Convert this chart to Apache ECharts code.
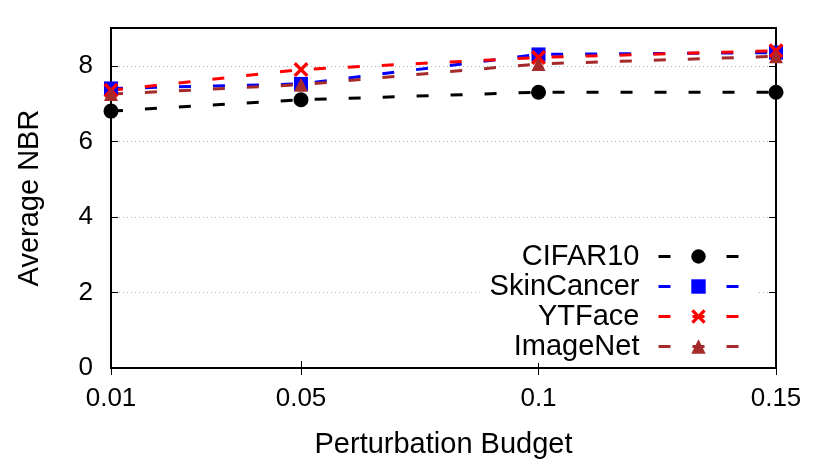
<!DOCTYPE html>
<html>
<head>
<meta charset="utf-8">
<script src="https://cdn.jsdelivr.net/npm/echarts@6/dist/echarts.min.js"></script>
<style>
html,body{margin:0;padding:0;background:#fff;}
#main{width:830px;height:464px;}
</style>
</head>
<body>
<div id="main"></div>
<script>
const budgets = [0.01, 0.05, 0.1, 0.15];
const tickLabels = ['0.01', '0.05', '0.1', '0.15'];
const seriesNames = ['CIFAR10', 'SkinCancer', 'YTFace', 'ImageNet'];
const cifar10 = [6.8, 7.1, 7.3, 7.3];
const skinCancer = [7.4, 7.52, 8.3, 8.35];
const ytFace = [7.35, 7.9, 8.22, 8.4];
const imageNet = [7.25, 7.5, 8.05, 8.25];
const yTicks = [0, 2, 4, 6, 8];

const FONT = 'Liberation Sans, Arial, sans-serif';
const colors = ['#000000', '#0000ff', '#ff0000', '#a52a2a'];
const symbols = [
  'circle',
  'rect',
  'path://M0,1.6 L1.6,0 L5,3.4 L8.4,0 L10,1.6 L6.6,5 L10,8.4 L8.4,10 L5,6.6 L1.6,10 L0,8.4 L3.4,5 Z',
  'triangle'
];
const symbolSizes = [15, 14, 15, 14];
const values = [cifar10, skinCancer, ytFace, imageNet];

const chart = echarts.init(document.getElementById('main'), null, {renderer: 'canvas'});

const series = seriesNames.map((name, i) => ({
  name: name,
  type: 'line',
  xAxisIndex: 0,
  yAxisIndex: 0,
  data: budgets.map((b, j) => [b, values[i][j]]),
  symbol: symbols[i],
  symbolSize: symbolSizes[i],
  showAllSymbol: true,
  itemStyle: {color: colors[i]},
  lineStyle: {color: colors[i], width: 3, type: [12, 22]},
  emphasis: {disabled: true},
  animation: false
}));

const option = {
  animation: false,
  textStyle: {fontFamily: FONT},
  grid: {
    left: 111, right: 54, top: 28, bottom: 96,
    show: true, borderColor: '#000', borderWidth: 2, backgroundColor: 'transparent'
  },
  legend: {
    orient: 'vertical',
    right: 72,
    top: 240,
    align: 'right',
    itemWidth: 80,
    itemHeight: 18,
    itemGap: 1,
    padding: [2, 18, 2, 10],
    backgroundColor: '#fff',
    lineStyle: {width: 3},
    textStyle: {fontSize: 29, fontFamily: FONT, color: '#000', padding: [0, 14, 0, 0]},
    data: seriesNames
  },
  xAxis: [{
    type: 'value',
    min: 0.01,
    max: 0.15,
    name: 'Perturbation Budget',
    nameLocation: 'middle',
    nameGap: 62,
    nameTextStyle: {fontSize: 29, color: '#000', fontFamily: FONT},
    axisLine: {show: true, lineStyle: {color: '#000', width: 2}},
    axisTick: {show: true, inside: true, length: 7, customValues: budgets, lineStyle: {color: '#000', width: 1}},
    axisLabel: {
      show: true, fontSize: 26, color: '#000', margin: 18, fontFamily: FONT,
      customValues: budgets,
      formatter: function (v) { const k = budgets.findIndex(b => Math.abs(b - v) < 1e-9); return k >= 0 ? tickLabels[k] : ''; }
    },
    splitLine: {show: false}
  }, {
    type: 'value',
    position: 'top',
    min: 0.01,
    max: 0.15,
    axisLine: {show: true, lineStyle: {color: '#000', width: 2}},
    axisTick: {show: true, inside: true, length: 7, customValues: budgets, lineStyle: {color: '#000', width: 1}},
    axisLabel: {show: false},
    splitLine: {show: false}
  }],
  yAxis: [{
    type: 'value',
    min: 0,
    max: 9,
    interval: 2,
    name: 'Average NBR',
    nameLocation: 'middle',
    nameGap: 67,
    nameTextStyle: {fontSize: 29, color: '#000', fontFamily: FONT},
    axisLine: {show: true, lineStyle: {color: '#000', width: 2}},
    axisTick: {show: true, inside: true, length: 7, customValues: yTicks, lineStyle: {color: '#000', width: 1}},
    axisLabel: {show: true, fontSize: 26, color: '#000', margin: 18, fontFamily: FONT, customValues: yTicks},
    splitLine: {show: true, lineStyle: {color: '#b0b0b0', width: 1, type: [1, 3]}}
  }, {
    type: 'value',
    position: 'right',
    min: 0,
    max: 9,
    interval: 2,
    axisLine: {show: true, lineStyle: {color: '#000', width: 2}},
    axisTick: {show: true, inside: true, length: 7, customValues: yTicks, lineStyle: {color: '#000', width: 1}},
    axisLabel: {show: false},
    splitLine: {show: false}
  }],
  series: series
};

chart.setOption(option);
</script>
</body>
</html>
